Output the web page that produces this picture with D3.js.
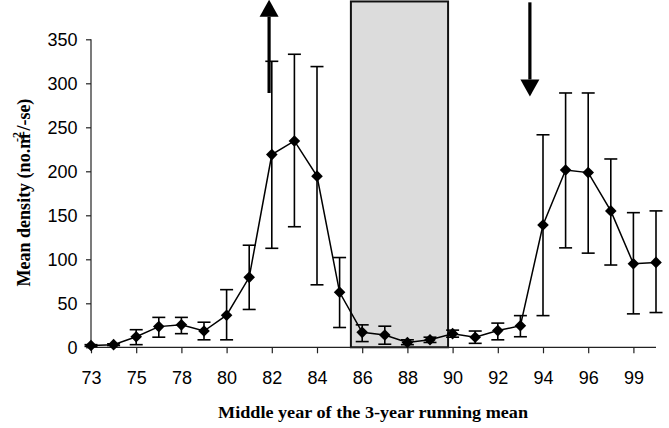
<!DOCTYPE html>
<html>
<head>
<meta charset="utf-8">
<script src="https://cdn.jsdelivr.net/npm/d3@7"></script>
<style>
  body { margin: 0; background: #fff; }
  svg { display: block; }
</style>
</head>
<body>
<svg id="chart"></svg>
<script>
// categories along the x axis (running-mean middle years)
let years = ["73", "74", "75", "77", "78", "79", "80", "81", "82", "83", "84", "85", "86",
             "87", "88", "89", "90", "91", "92", "93", "94", "95", "96", "97", "99", "00"]
// mean density and error bar ends (+/- se)
let means = [2, 3, 12, 23.5, 25.5, 18.5, 36.5, 79.5, 219, 234.5, 194.5, 62.5, 17,
             14, 5.5, 8.5, 15.5, 11.5, 19, 24.5, 139, 201.5, 198.5, 155, 95, 96.5]
let upper = [3, 4, 20, 34, 34, 28.5, 65.5, 116, 325, 333, 319, 102, 25.5,
             24, 8.5, 11.5, 19.5, 18.5, 27.5, 36, 241.5, 289, 289, 214, 153, 155]
let lower = [1, 2, 3, 11.5, 15.5, 8.5, 8.5, 43, 112.5, 137, 71, 22.5, 6.5,
             3.5, 3, 5.5, 11.5, 4.5, 8.5, 12, 36, 113, 107, 93.5, 38, 39.5]
let tickYears = ["73", "75", "78", "80", "82", "84", "86", "88", "90", "92", "94", "96", "99"]
let yTicks = [0, 50, 100, 150, 200, 250, 300, 350]

// annotations in data units (category index, value)
let shadeSpan = [11.5, 15.8]
let shadeTop = 393
let upArrow = { at: 7.88, from: 289, to: 395 }
let downArrow = { at: 19.42, from: 392, to: 285 }

let width = 669
let height = 428
let plotLeft = 91
let plotRight = 656
let plotTop = 39.3
let plotBottom = 347.3

let svg = d3.select('#chart')
  .attr('width', width)
  .attr('height', height)

let xScale = d3.scalePoint()
  .domain(years)
  .range([plotLeft, plotRight])

let xAt = (i) => xScale(years[0]) + i * xScale.step()

let yScale = d3.scaleLinear()
  .domain([0, 350])
  .range([plotBottom, plotTop])

// shaded period
svg.append('rect')
  .attr('x', xAt(shadeSpan[0]))
  .attr('y', yScale(shadeTop))
  .attr('width', xAt(shadeSpan[1]) - xAt(shadeSpan[0]))
  .attr('height', yScale(0) - yScale(shadeTop))
  .attr('fill', '#dcdcdc')
  .attr('stroke', '#111')
  .attr('stroke-width', 2)

// axes
let xAxis = d3.axisBottom(xScale)
  .tickValues(tickYears)
  .tickSize(6)
  .tickPadding(18)
let yAxis = d3.axisLeft(yScale)
  .tickValues(yTicks)
  .tickSize(5)
  .tickPadding(8.5)

let gx = svg.append('g')
  .attr('transform', 'translate(0,' + plotBottom + ')')
  .call(xAxis)
let gy = svg.append('g')
  .attr('transform', 'translate(' + plotLeft + ',0)')
  .call(yAxis)

for (let g of [gx, gy]) {
  g.select('.domain').attr('stroke', '#222').attr('stroke-width', 1.2)
  g.selectAll('.tick line').attr('stroke', '#222').attr('stroke-width', 1.2)
  g.selectAll('.tick text')
    .attr('fill', '#000')
    .style('font-family', '"Liberation Sans", Arial, sans-serif')
    .style('font-size', '18px')
}
gx.select('.domain').attr('d', 'M' + plotLeft + ',0H' + plotRight)
gy.select('.domain').attr('d', 'M0,' + plotBottom + 'V' + plotTop)

// error bars
let idx = d3.range(years.length)
let bars = svg.append('g').attr('stroke', '#000').attr('stroke-width', 1.6)
bars.selectAll('line.stem')
  .data(idx)
  .enter()
  .append('line')
  .attr('x1', (i) => xScale(years[i]))
  .attr('x2', (i) => xScale(years[i]))
  .attr('y1', (i) => yScale(upper[i]))
  .attr('y2', (i) => yScale(lower[i]))
for (let ends of [upper, lower]) {
  bars.append('g').selectAll('line')
    .data(idx)
    .enter()
    .append('line')
    .attr('x1', (i) => xScale(years[i]) - 6.5)
    .attr('x2', (i) => xScale(years[i]) + 6.5)
    .attr('y1', (i) => yScale(ends[i]))
    .attr('y2', (i) => yScale(ends[i]))
}

// series line
let line = d3.line()
  .x((i) => xScale(years[i]))
  .y((i) => yScale(means[i]))
svg.append('path')
  .datum(idx)
  .attr('d', line)
  .attr('fill', 'none')
  .attr('stroke', '#000')
  .attr('stroke-width', 1.5)

// diamond markers
svg.selectAll('path.marker')
  .data(idx)
  .enter()
  .append('path')
  .attr('class', 'marker')
  .attr('d', (i) => {
    let cx = xScale(years[i])
    let cy = yScale(means[i])
    return 'M' + cx + ',' + (cy - 5.8) + 'L' + (cx + 5.8) + ',' + cy +
           'L' + cx + ',' + (cy + 5.8) + 'L' + (cx - 5.8) + ',' + cy + 'Z'
  })
  .attr('fill', '#000')

// arrows
let drawArrow = (a) => {
  let x = xAt(a.at)
  let y0 = yScale(a.from)
  let y1 = yScale(a.to)
  let dir = y1 < y0 ? -1 : 1
  let headLen = 17
  let headHalf = 9.5
  svg.append('line')
    .attr('x1', x).attr('x2', x)
    .attr('y1', y0).attr('y2', y1 - dir * headLen)
    .attr('stroke', '#000')
    .attr('stroke-width', 3.2)
  svg.append('path')
    .attr('d', 'M' + x + ',' + y1 + 'L' + (x + headHalf) + ',' + (y1 - dir * headLen) +
               'L' + (x - headHalf) + ',' + (y1 - dir * headLen) + 'Z')
    .attr('fill', '#000')
}
drawArrow(upArrow)
drawArrow(downArrow)

// axis titles
svg.append('text')
  .attr('x', 373)
  .attr('y', 418)
  .attr('text-anchor', 'middle')
  .attr('textLength', 310)
  .attr('lengthAdjust', 'spacingAndGlyphs')
  .style('font-family', '"Liberation Serif", "Times New Roman", serif')
  .style('font-weight', 'bold')
  .style('font-size', '17.5px')
  .text('Middle year of the 3-year running mean')

let yTitle = svg.append('text')
  .attr('transform', 'translate(30,192.5) rotate(-90)')
  .attr('text-anchor', 'middle')
  .style('font-family', '"Liberation Serif", "Times New Roman", serif')
  .style('font-weight', 'bold')
  .style('font-size', '18px')
yTitle.append('tspan').text('Mean density (no.m')
yTitle.append('tspan')
  .attr('dy', -9)
  .attr('dx', -8)
  .style('font-size', '12px')
  .text('-2')
yTitle.append('tspan')
  .attr('dy', 9)
  .attr('dx', -9)
  .text('+/-se)')
</script>
</body>
</html>
